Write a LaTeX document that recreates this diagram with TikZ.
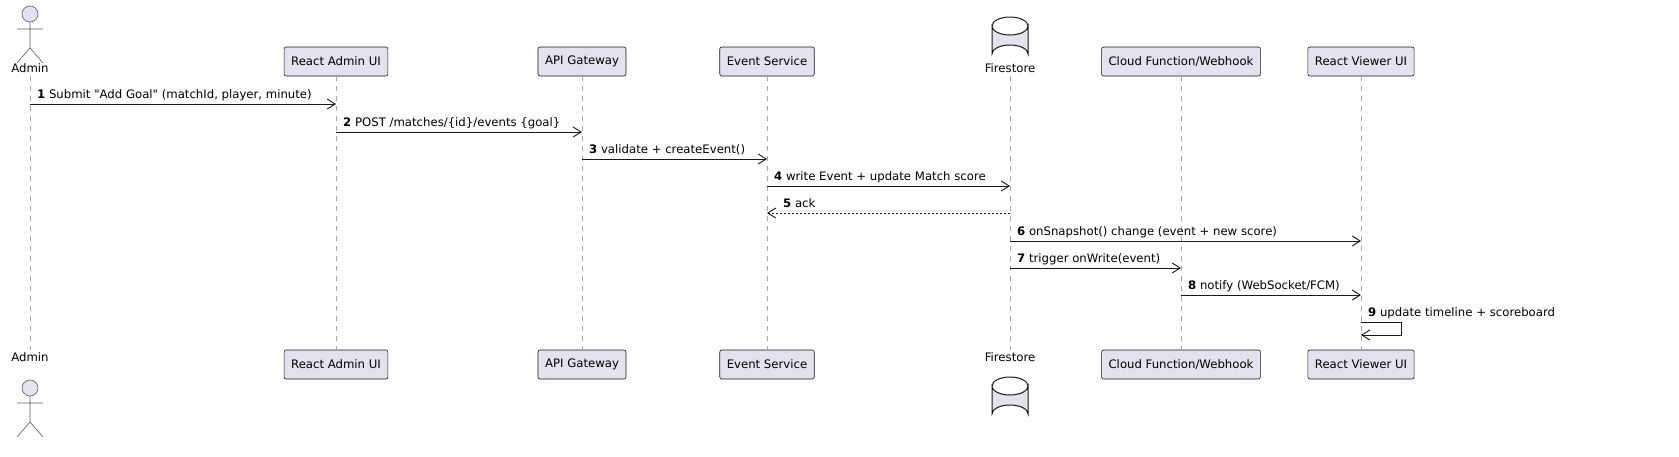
\documentclass[tikz,border=0pt]{standalone}
\usepackage{fontspec}
\setmainfont{DejaVu Sans}[Ligatures=TeXOff]
\usetikzlibrary{arrows.meta}
\definecolor{pfill}{HTML}{E2E2F0}
\definecolor{pline}{HTML}{181818}
\tikzset{
 every node/.style={font=\fontsize{11.7}{14}\selectfont},
 part/.style={draw=pline,fill=pfill,rounded corners=2pt,minimum height=29pt,inner xsep=7pt,line width=0.6pt},
 life/.style={draw=gray!70,dash pattern=on 5pt off 5pt,line width=0.6pt},
 msg/.style={-{Straight Barb[length=8pt,width=10pt]},line width=0.9pt,draw=pline},
 ret/.style={msg,dash pattern=on 2pt off 2pt},
 lbl/.style={anchor=base west,inner sep=0pt},
 cylline/.style={draw=pline,fill=pfill,line width=1pt},
}
\newcommand{\actorfig}[2]{% x, head-center y
 \draw[draw=pline!70,fill=pfill,line width=0.6pt] (#1,#2) circle (8);
 \draw[draw=pline!70,line width=0.6pt] (#1,#2+8) -- (#1,#2+34) (#1-13,#2+15) -- (#1+13,#2+15)
   (#1-13,#2+49) -- (#1,#2+34) -- (#1+13,#2+49);
}
\newcommand{\dbfig}[2]{% x, top y
 \draw[cylline] (#1-18,#2+9) -- (#1-18,#2+37) arc[start angle=180,end angle=360,x radius=18,y radius=9] -- (#1+18,#2+9) arc[start angle=0,end angle=180,x radius=18,y radius=9] -- cycle;
 \draw[cylline,fill=none] (#1-18,#2+9) arc[start angle=180,end angle=360,x radius=18,y radius=9];
}
\begin{document}
\begin{tikzpicture}[x=1pt,y=-1pt]
\useasboundingbox (0,0) rectangle (1679,456);
\actorfig{30}{14}
\node[anchor=base] (adminT) at (30,72) {Admin};
\node[part] (raT) at (336,61.5) {React Admin UI};
\node[part] (apiT) at (582,61.5) {API Gateway};
\node[part] (evT) at (767,61.5) {Event Service};
\dbfig{1010}{17}
\node[anchor=base] (fsT) at (1010,72) {Firestore};
\node[part] (cfT) at (1181,61.5) {Cloud Function/Webhook};
\node[part] (rvT) at (1361,61.5) {React Viewer UI};
\node[anchor=base] (adminB) at (30,361) {Admin};
\actorfig{30}{388}
\node[part] (raB) at (336,364.5) {React Admin UI};
\node[part] (apiB) at (582,364.5) {API Gateway};
\node[part] (evB) at (767,364.5) {Event Service};
\node[anchor=base] (fsB) at (1010,361) {Firestore};
\dbfig{1010}{377}
\node[part] (cfB) at (1181,364.5) {Cloud Function/Webhook};
\node[part] (rvB) at (1361,364.5) {React Viewer UI};
\draw[life] (30,76) -- (30,350);
\draw[life] (raT.south) -- (raB.north);
\draw[life] (apiT.south) -- (apiB.north);
\draw[life] (evT.south) -- (evB.north);
\draw[life] (1010,76) -- (1010,350);
\draw[life] (cfT.south) -- (cfB.north);
\draw[life] (rvT.south) -- (rvB.north);
\foreach \n/\x in {ad/30,ra/336,api/582,ev/767,fs/1010,cf/1181,rv/1361}{
  \foreach \i/\y in {1/104,2/132,3/159,4/186,5/213,6/241,7/268,8/295,9/322}{
    \coordinate (\n\i) at (\x,\y);
  }
}
\draw[msg] (ad1) -- (ra1);
\node[lbl] at (37,98) {\textbf{1} Submit "Add Goal" (matchId, player, minute)};
\draw[msg] (ra2) -- (api2);
\node[lbl] at (343,126) {\textbf{2} POST /matches/\{id\}/events \{goal\}};
\draw[msg] (api3) -- (ev3);
\node[lbl] at (589,153) {\textbf{3} validate + createEvent()};
\draw[msg] (ev4) -- (fs4);
\node[lbl] at (774,180) {\textbf{4} write Event + update Match score};
\draw[ret] (fs5) -- (ev5);
\node[lbl] at (783,207) {\textbf{5} ack};
\draw[msg] (fs6) -- (rv6);
\node[lbl] at (1017,235) {\textbf{6} onSnapshot() change (event + new score)};
\draw[msg] (fs7) -- (cf7);
\node[lbl] at (1017,262) {\textbf{7} trigger onWrite(event)};
\draw[msg] (cf8) -- (rv8);
\node[lbl] at (1188,289) {\textbf{8} notify (WebSocket/FCM)};
\coordinate (sA) at (1401,322);
\coordinate (sB) at (1401,335);
\coordinate (rv9b) at (1361,335);
\draw[msg] (rv9) -- (sA) -- (sB) -- (rv9b);
\node[lbl] at (1368,316) {\textbf{9} update timeline + scoreboard};
\end{tikzpicture}
\end{document}
